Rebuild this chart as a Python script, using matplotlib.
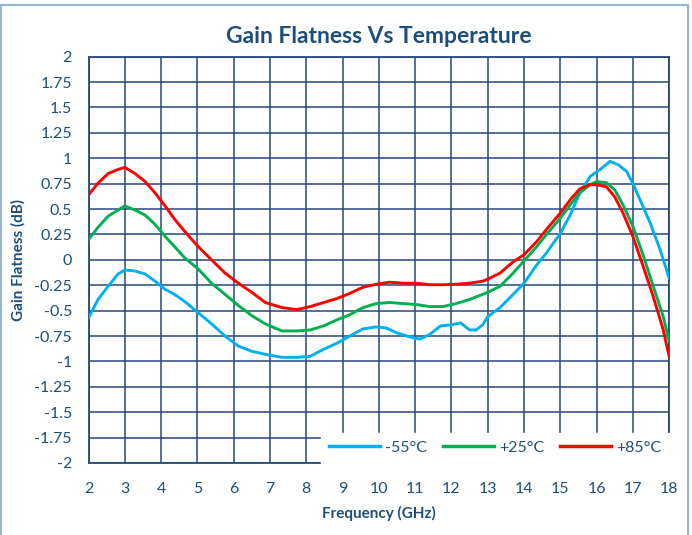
import matplotlib.pyplot as plt
from matplotlib.patches import Rectangle

# ── Data ────────────────────────────────────────────────────────────────────
freq_m55 = [2.0, 2.26, 2.54, 2.81, 3.0, 3.28, 3.56, 3.83, 4.11, 4.37, 4.65, 5.02,
            5.39, 5.76, 6.13, 6.5, 6.87, 7.33, 7.74, 8.11, 8.48, 8.85, 9.2, 9.56,
            9.93, 10.2, 10.5, 10.86, 11.13, 11.4, 11.7, 12.0, 12.25, 12.5, 12.68,
            12.86, 13.0, 13.34, 13.7, 14.0, 14.35, 14.62, 15.0, 15.27, 15.54,
            15.82, 16.1, 16.37, 16.6, 16.83, 17.0, 17.2, 17.48, 17.75, 18.0]
gain_m55 = [-0.57, -0.39, -0.26, -0.14, -0.10, -0.11, -0.14, -0.21, -0.29, -0.34,
            -0.41, -0.52, -0.63, -0.75, -0.85, -0.90, -0.93, -0.96, -0.96, -0.95,
            -0.88, -0.82, -0.75, -0.68, -0.66, -0.67, -0.72, -0.76, -0.78, -0.735,
            -0.65, -0.64, -0.62, -0.69, -0.69, -0.64, -0.56, -0.47, -0.34, -0.23,
            -0.05, 0.07, 0.26, 0.44, 0.66, 0.82, 0.89, 0.97, 0.935, 0.87, 0.75,
            0.59, 0.36, 0.10, -0.18]

freq_p25 = [2.0, 2.26, 2.54, 2.81, 3.0, 3.28, 3.56, 3.83, 4.11, 4.37, 4.65, 5.02,
            5.39, 5.76, 6.13, 6.5, 6.87, 7.33, 7.74, 8.11, 8.48, 8.85, 9.2, 9.56,
            9.93, 10.3, 10.66, 11.03, 11.4, 11.76, 12.13, 12.5, 12.86, 13.0,
            13.34, 13.7, 14.0, 14.35, 14.62, 15.0, 15.27, 15.54, 15.82, 16.0,
            16.27, 16.5, 16.73, 17.0, 17.28, 17.56, 17.83, 18.0]
gain_p25 = [0.20, 0.32, 0.43, 0.49, 0.53, 0.49, 0.44, 0.35, 0.23, 0.13, 0.02,
            -0.09, -0.23, -0.34, -0.45, -0.55, -0.63, -0.70, -0.70, -0.69, -0.65,
            -0.59, -0.54, -0.47, -0.43, -0.42, -0.43, -0.44, -0.46, -0.46, -0.43,
            -0.39, -0.34, -0.32, -0.26, -0.13, -0.01, 0.13, 0.25, 0.41, 0.54,
            0.66, 0.74, 0.77, 0.76, 0.69, 0.54, 0.33, 0.05, -0.26, -0.55, -0.80]

freq_p85 = [2.0, 2.26, 2.54, 2.81, 3.0, 3.28, 3.56, 3.83, 4.11, 4.37, 4.65, 5.02,
            5.39, 5.76, 6.13, 6.5, 6.87, 7.33, 7.74, 8.11, 8.48, 8.85, 9.2, 9.56,
            9.93, 10.3, 10.66, 11.03, 11.4, 11.76, 12.13, 12.5, 12.86, 13.0,
            13.34, 13.7, 14.0, 14.35, 14.62, 15.0, 15.27, 15.54, 15.82, 16.0,
            16.27, 16.5, 16.73, 17.0, 17.28, 17.56, 17.83, 18.0]
gain_p85 = [0.64, 0.755, 0.85, 0.89, 0.91, 0.85, 0.77, 0.66, 0.53, 0.40, 0.28,
            0.13, 0.0, -0.13, -0.23, -0.32, -0.42, -0.47, -0.49, -0.46, -0.42,
            -0.38, -0.33, -0.27, -0.24, -0.22, -0.23, -0.23, -0.245, -0.245,
            -0.24, -0.23, -0.21, -0.19, -0.13, -0.02, 0.05, 0.18, 0.30, 0.46,
            0.59, 0.70, 0.74, 0.74, 0.72, 0.62, 0.46, 0.23, -0.06, -0.36, -0.68,
            -0.95]

SERIES = [
    ("-55°C", freq_m55, gain_m55, "#00B0F0"),
    ("+25°C", freq_p25, gain_p25, "#00B050"),
    ("+85°C", freq_p85, gain_p85, "#FF0000"),
]

x_ticks = list(range(2, 19))
y_ticks = [-2, -1.75, -1.5, -1.25, -1, -0.75, -0.5, -0.25, 0,
           0.25, 0.5, 0.75, 1, 1.25, 1.5, 1.75, 2]
y_tick_labels = ["-2", "-1.75", "-1.5", "-1.25", "-1", "-0.75", "-0.5", "-0.25", "0",
                 "0.25", "0.5", "0.75", "1", "1.25", "1.5", "1.75", "2"]

NAVY = "#1F4E79"
GRID = "#24497A"
FONT = ["Lato", "DejaVu Sans"]

plt.rcParams["font.family"] = FONT

fig = plt.figure(figsize=(6.92, 5.35), dpi=100)
fig.patch.set_facecolor("#ffffff")
ax = fig.add_axes([0.128, 0.1346, 0.839, 0.7594])

for label, xs, ys, color in SERIES:
    ax.plot(xs, ys, color=color, linewidth=2.1, label=label, zorder=3)

ax.set_xlim(2, 18)
ax.set_ylim(-2, 2)
ax.set_xticks(x_ticks)
ax.set_yticks(y_ticks)
ax.set_yticklabels(y_tick_labels)

ax.grid(True, color=GRID, linewidth=1.1)
ax.set_axisbelow(True)
for spine in ax.spines.values():
    spine.set_edgecolor(GRID)
    spine.set_linewidth(1.3)

ax.tick_params(axis="x", length=0, pad=14, labelsize=11.5, colors=NAVY)
ax.tick_params(axis="y", length=0, pad=12, labelsize=11.5, colors=NAVY)

ax.set_xlabel("Frequency (GHz)", fontsize=11, color=NAVY, fontweight="bold", labelpad=7)
ax.set_ylabel("Gain Flatness (dB)", fontsize=11, color=NAVY, fontweight="bold", labelpad=6)
ax.set_title("Gain Flatness Vs Temperature", fontsize=16.5, color=NAVY,
             fontweight="bold", pad=10)

leg = ax.legend(
    loc="lower right",
    bbox_to_anchor=(1.0, 0.0),
    borderaxespad=0,
    ncol=3,
    frameon=True,
    fancybox=False,
    facecolor="#ffffff",
    edgecolor="#ffffff",
    framealpha=1,
    fontsize=11.5,
    handlelength=3.2,
    handletextpad=0.3,
    columnspacing=1.0,
    borderpad=0.5,
)
for txt in leg.get_texts():
    txt.set_color(NAVY)
for line in leg.get_lines():
    line.set_linewidth(2.5)

# light outer chart border
fig.patches.append(Rectangle((0.002, -0.01), 0.992, 1.0, transform=fig.transFigure,
                             fill=False, edgecolor="#95B3D7", linewidth=1.5))

plt.savefig("out.png", dpi=100)
